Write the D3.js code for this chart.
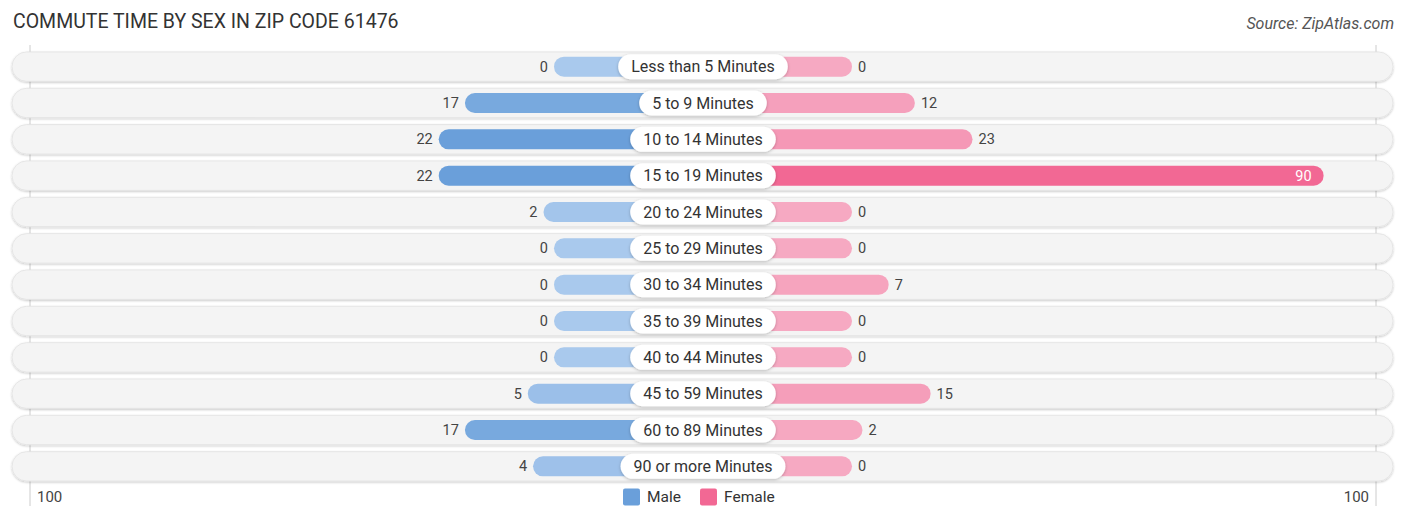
<!DOCTYPE html>
<html>
<head>
<meta charset="utf-8">
<script src="https://cdn.jsdelivr.net/npm/d3@7"></script>
<style>
  body { margin: 0; background: #fff; font-family: Roboto, "Noto Sans", sans-serif; }
  svg text { font-family: Roboto, "Noto Sans", sans-serif; }
</style>
</head>
<body>
<svg id="chart"></svg>
<script>
const categories = ['Less than 5 Minutes', '5 to 9 Minutes', '10 to 14 Minutes', '15 to 19 Minutes',
  '20 to 24 Minutes', '25 to 29 Minutes', '30 to 34 Minutes', '35 to 39 Minutes',
  '40 to 44 Minutes', '45 to 59 Minutes', '60 to 89 Minutes', '90 or more Minutes']
const male = [0, 17, 22, 22, 2, 0, 0, 0, 0, 5, 17, 4]
const female = [0, 12, 23, 90, 0, 0, 7, 0, 0, 15, 2, 0]
const axisMax = 100

const width = 1406
const height = 522
const cx = 703
const stub = 149
const half = 673

const svg = d3.select('#chart').attr('width', width).attr('height', height)

const defs = svg.append('defs')
const sh = defs.append('filter').attr('id', 'sh').attr('x', '-5%').attr('y', '-30%').attr('width', '110%').attr('height', '160%')
sh.append('feDropShadow').attr('dx', 0).attr('dy', 1).attr('stdDeviation', 1.2).attr('flood-color', '#000').attr('flood-opacity', 0.22)
const sh2 = defs.append('filter').attr('id', 'sh2').attr('x', '-10%').attr('y', '-40%').attr('width', '120%').attr('height', '180%')
sh2.append('feDropShadow').attr('dx', 0).attr('dy', 1).attr('stdDeviation', 1.5).attr('flood-color', '#000').attr('flood-opacity', 0.25)

// title + source
svg.append('text').attr('x', 13).attr('y', 28).attr('font-size', 19.5).attr('fill', '#333')
   .text('COMMUTE TIME BY SEX IN ZIP CODE 61476')
svg.append('text').attr('x', 1394).attr('y', 29).attr('text-anchor', 'end').attr('font-size', 16)
   .attr('font-style', 'italic').attr('fill', '#555').text('Source: ZipAtlas.com')

const y = d3.scaleBand().domain(categories).range([49, 484]).paddingInner(0.19).paddingOuter(0.08)

// bar length from center: stub (label area) + value
const len = d3.scaleLinear().domain([0, axisMax]).range([stub, half])

const maleColor = d3.scaleLinear().domain([0, d3.max(male)]).range(['#a9c9ed', '#6a9fda'])
const femaleColor = d3.scaleLinear().domain([0, d3.max(female)]).range(['#f6a9c2', '#f26894'])

// axis lines
svg.append('line').attr('x1', cx - half).attr('x2', cx - half).attr('y1', 45).attr('y2', 506)
   .attr('stroke', '#ccc').attr('stroke-width', 1)
svg.append('line').attr('x1', cx + half).attr('x2', cx + half).attr('y1', 45).attr('y2', 506)
   .attr('stroke', '#ccc').attr('stroke-width', 1)

const rows = svg.append('g').selectAll('g').data(categories).join('g')
  .attr('transform', d => `translate(0,${y(d) + y.bandwidth() / 2})`)

const rh = y.bandwidth()
rows.append('rect')
  .attr('x', 12).attr('y', -rh / 2).attr('width', 1381).attr('height', rh)
  .attr('rx', rh / 2).attr('fill', '#f4f4f4').attr('stroke', '#e2e2e2').attr('stroke-width', 0.8)
  .attr('filter', 'url(#sh)')

const bh = 20
rows.append('rect')
  .attr('x', (d, i) => cx - len(male[i])).attr('y', -bh / 2)
  .attr('width', (d, i) => len(male[i])).attr('height', bh).attr('rx', bh / 2)
  .attr('fill', (d, i) => maleColor(male[i]))
rows.append('rect')
  .attr('x', cx).attr('y', -bh / 2)
  .attr('width', (d, i) => len(female[i])).attr('height', bh).attr('rx', bh / 2)
  .attr('fill', (d, i) => femaleColor(female[i]))

// values
rows.append('text')
  .attr('x', (d, i) => cx - len(male[i]) - 6).attr('dy', '0.35em')
  .attr('text-anchor', 'end').attr('font-size', 14.5).attr('fill', '#444')
  .text((d, i) => male[i])
rows.append('text')
  .attr('x', (d, i) => female[i] > 60 ? cx + len(female[i]) - 12 : cx + len(female[i]) + 6)
  .attr('dy', '0.35em')
  .attr('text-anchor', (d, i) => female[i] > 60 ? 'end' : 'start')
  .attr('font-size', 14.5).attr('fill', (d, i) => female[i] > 60 ? '#fff' : '#444')
  .text((d, i) => female[i])

// category label pills
rows.each(function (d) {
  const g = d3.select(this)
  const pill = g.append('rect').attr('fill', '#fff').attr('filter', 'url(#sh2)')
  const t = g.append('text').attr('x', cx).attr('dy', '0.35em').attr('text-anchor', 'middle')
    .attr('font-size', 16).attr('fill', '#333').text(d)
  const w = t.node().getComputedTextLength() + 26
  const ph = 25
  pill.attr('x', cx - w / 2).attr('y', -ph / 2).attr('width', w).attr('height', ph).attr('rx', ph / 2)
})

// bottom axis labels + legend
svg.append('text').attr('x', cx - half + 7).attr('y', 497).attr('dy', '0.35em')
   .attr('font-size', 15).attr('fill', '#444').text(axisMax)
svg.append('text').attr('x', cx + half - 7).attr('y', 497).attr('dy', '0.35em').attr('text-anchor', 'end')
   .attr('font-size', 15).attr('fill', '#444').text(axisMax)

const legend = [['Male', '#6a9fda', 623], ['Female', '#f26894', 700]]
const lg = svg.append('g').selectAll('g').data(legend).join('g')
  .attr('transform', d => `translate(${d[2]},497)`)
lg.append('rect').attr('x', 0).attr('y', -8.5).attr('width', 17).attr('height', 17).attr('rx', 2)
  .attr('fill', d => d[1])
lg.append('text').attr('x', 24).attr('dy', '0.35em').attr('font-size', 15.5).attr('fill', '#333')
  .text(d => d[0])
</script>
</body>
</html>
